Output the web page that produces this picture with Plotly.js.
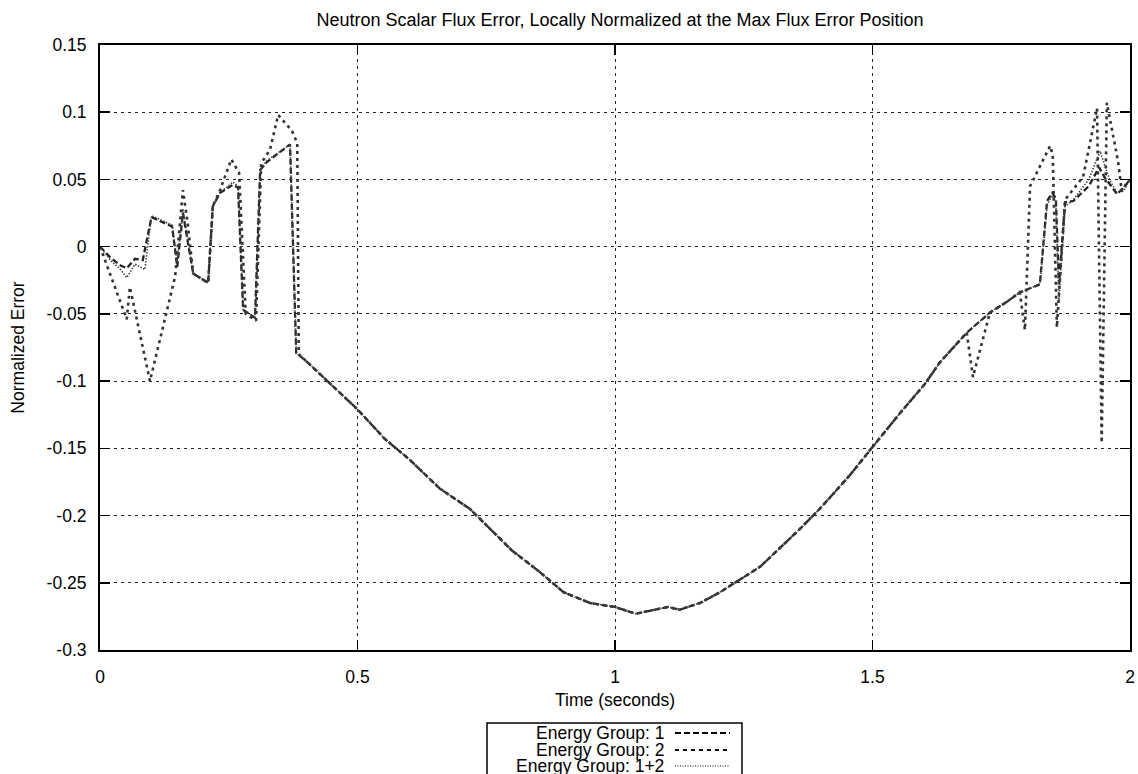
<!DOCTYPE html>
<html>
<head>
<meta charset="utf-8">
<script src="https://cdn.plot.ly/plotly-3.0.1.min.js"></script>
<style>html,body{margin:0;padding:0;background:#fff;}#chart{width:1138px;height:774px;}</style>
</head>
<body>
<div id="chart"></div>
<script>
// ---- data ----
const midTime = [0.40, 0.447, 0.50, 0.553, 0.60, 0.66, 0.718, 0.80, 0.854, 0.90, 0.951, 1.0, 1.04, 1.103, 1.126, 1.165, 1.204, 1.282, 1.359, 1.40, 1.456, 1.50, 1.553, 1.602, 1.631];
const midErr  = [-0.085, -0.102, -0.121, -0.143, -0.158, -0.180, -0.195, -0.226, -0.242, -0.257, -0.265, -0.268, -0.273, -0.268, -0.270, -0.265, -0.257, -0.238, -0.210, -0.194, -0.170, -0.149, -0.124, -0.102, -0.086];

const g1TimeLeft  = [0, 0.02, 0.04, 0.052, 0.068, 0.083, 0.10, 0.14, 0.15, 0.161, 0.181, 0.21, 0.219, 0.233, 0.258, 0.268, 0.278, 0.301, 0.311, 0.324, 0.369, 0.381];
const g1ErrLeft   = [0, -0.008, -0.014, -0.016, -0.009, -0.010, 0.022, 0.015, -0.015, 0.025, -0.020, -0.027, 0.030, 0.040, 0.046, 0.044, -0.047, -0.053, 0.057, 0.063, 0.076, -0.079];
const g1TimeRight = [1.683, 1.728, 1.761, 1.786, 1.825, 1.839, 1.849, 1.856, 1.862, 1.874, 1.89, 1.92, 1.94, 1.95, 1.975, 1.99, 2.0];
const g1ErrRight  = [-0.064, -0.049, -0.041, -0.034, -0.028, 0.034, 0.040, 0.036, -0.028, 0.033, 0.034, 0.045, 0.059, 0.052, 0.039, 0.045, 0.050];

const g2TimeLeft  = [0, 0.052, 0.058, 0.097, 0.146, 0.161, 0.17, 0.181, 0.21, 0.219, 0.233, 0.255, 0.27, 0.283, 0.303, 0.313, 0.33, 0.346, 0.373, 0.383, 0.386];
const g2ErrLeft   = [0, -0.054, -0.030, -0.100, -0.022, 0.042, 0.018, -0.020, -0.027, 0.030, 0.042, 0.065, 0.055, -0.050, -0.055, 0.062, 0.072, 0.098, 0.086, 0.077, -0.080];
const g2TimeRight = [1.683, 1.695, 1.728, 1.761, 1.786, 1.796, 1.806, 1.845, 1.85, 1.858, 1.874, 1.909, 1.936, 1.945, 1.955, 1.977, 1.984, 1.994, 2.0];
const g2ErrRight  = [-0.064, -0.097, -0.049, -0.041, -0.034, -0.062, 0.045, 0.075, 0.068, -0.060, 0.035, 0.052, 0.103, -0.146, 0.107, 0.063, 0.041, 0.048, 0.050];

const g12TimeLeft  = [0, 0.02, 0.04, 0.052, 0.068, 0.087, 0.10, 0.14, 0.15, 0.161, 0.181, 0.21, 0.219, 0.233, 0.258, 0.268, 0.278, 0.301, 0.311, 0.324, 0.369, 0.381];
const g12ErrLeft   = [0, -0.010, -0.017, -0.023, -0.013, -0.017, 0.023, 0.016, -0.012, 0.028, -0.020, -0.027, 0.030, 0.040, 0.048, 0.045, -0.047, -0.053, 0.057, 0.064, 0.076, -0.079];
const g12TimeRight = [1.683, 1.728, 1.761, 1.786, 1.825, 1.839, 1.849, 1.856, 1.862, 1.874, 1.89, 1.92, 1.942, 1.96, 1.975, 1.99, 2.0];
const g12ErrRight  = [-0.064, -0.049, -0.041, -0.034, -0.028, 0.031, 0.038, 0.033, -0.040, 0.030, 0.035, 0.050, 0.071, 0.050, 0.040, 0.043, 0.050];

const seriesNames = ['Energy Group: 1', 'Energy Group: 2', 'Energy Group: 1+2'];
const xTickVals = [0, 0.5, 1, 1.5, 2];
const xTickText = ['0', '0.5', '1', '1.5', '2'];
const yTickVals = [0.15, 0.1, 0.05, 0, -0.05, -0.1, -0.15, -0.2, -0.25, -0.3];
const yTickText = ['0.15', '0.1', '0.05', '0', '-0.05', '-0.1', '-0.15', '-0.2', '-0.25', '-0.3'];

// ---- styles ----
const FONT = '"Liberation Sans", Arial, Helvetica, sans-serif';
const FS = 17.5;
const styles = [
  {color: '#222', width: 2.3, dash: '6px,3px'},
  {color: '#333', width: 2.6, dash: '3px,4px'},
  {color: '#444', width: 1.6, dash: '1.5px,1.5px'}
];

const traces = [
  {x: g1TimeLeft.concat(midTime, g1TimeRight), y: g1ErrLeft.concat(midErr, g1ErrRight)},
  {x: g2TimeLeft.concat(midTime, g2TimeRight), y: g2ErrLeft.concat(midErr, g2ErrRight)},
  {x: g12TimeLeft.concat(midTime, g12TimeRight), y: g12ErrLeft.concat(midErr, g12ErrRight)}
].map((d, i) => ({
  type: 'scatter', mode: 'lines', name: seriesNames[i], x: d.x, y: d.y,
  line: styles[i], showlegend: false, hoverinfo: 'skip'
}));

// ---- custom legend (text right-aligned, sample on the right) ----
const plotL = 100, plotW = 1030, plotB = 650, plotH = 605;
const px2x = p => (p - plotL) / plotW;
const px2y = p => (plotB - p) / plotH;
const rowY = [733, 750, 766];
const shapes = [{
  type: 'rect', xref: 'paper', yref: 'paper', layer: 'above',
  x0: px2x(487), x1: px2x(742), y0: px2y(723), y1: px2y(800),
  line: {color: '#000', width: 1.5}, fillcolor: 'rgba(0,0,0,0)'
}];
const annotations = [];
seriesNames.forEach((n, i) => {
  annotations.push({
    text: n, xref: 'paper', yref: 'paper', x: px2x(666), y: px2y(rowY[i]),
    xanchor: 'right', yanchor: 'middle', showarrow: false,
    font: {family: FONT, size: FS, color: '#000'}
  });
  shapes.push({
    type: 'line', xref: 'paper', yref: 'paper', layer: 'above',
    x0: px2x(675), x1: px2x(730), y0: px2y(rowY[i]), y1: px2y(rowY[i]),
    line: {color: '#000', width: i === 2 ? 1.2 : 2, dash: i === 0 ? '6px,3px' : (i === 1 ? '4px,4px' : '1px,1.5px')}
  });
});

const axisCommon = {
  showline: true, linecolor: '#000', linewidth: 2, mirror: 'ticks',
  ticks: 'inside', ticklen: 10, tickwidth: 1.5, tickcolor: '#000',
  showgrid: true, gridcolor: '#222', gridwidth: 1, griddash: '3px,4px',
  zeroline: false, tickfont: {family: FONT, size: FS, color: '#000'},
  tickmode: 'array', fixedrange: true
};

const layout = {
  width: 1138, height: 774,
  margin: {l: 100, r: 8, t: 45, b: 124},
  paper_bgcolor: '#fff', plot_bgcolor: '#fff',
  font: {family: FONT, size: FS, color: '#000'},
  title: {text: 'Neutron Scalar Flux Error, Locally Normalized at the Max Flux Error Position',
          font: {family: FONT, size: 18, color: '#000'},
          x: 620 / 1138, xref: 'container', xanchor: 'center',
          y: 1 - 20 / 774, yref: 'container', yanchor: 'middle'},
  xaxis: Object.assign({}, axisCommon, {
    range: [0, 2], tickvals: xTickVals, ticktext: xTickText, ticklabelstandoff: 10,
    title: {text: 'Time (seconds)', font: {family: FONT, size: FS, color: '#000'}, standoff: 8}
  }),
  yaxis: Object.assign({}, axisCommon, {
    range: [-0.3, 0.15], tickvals: yTickVals, ticktext: yTickText, ticklabelstandoff: 8,
    title: {text: 'Normalized Error', font: {family: FONT, size: FS, color: '#000'}, standoff: 17}
  }),
  shapes: shapes, annotations: annotations, showlegend: false
};

Plotly.newPlot('chart', traces, layout, {staticPlot: true, displayModeBar: false});
</script>
</body>
</html>
